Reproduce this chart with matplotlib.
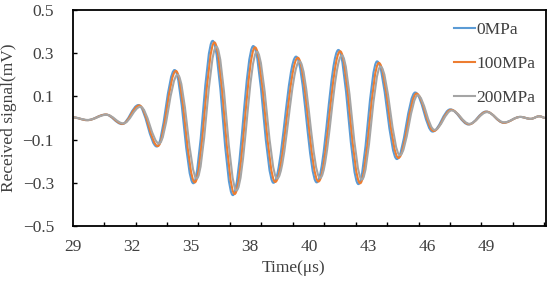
import numpy as np
import matplotlib
matplotlib.use("Agg")
import matplotlib.pyplot as plt
from matplotlib.path import Path
from matplotlib.patches import PathPatch
from matplotlib.lines import Line2D

plt.rcParams['font.family'] = ['Liberation Serif', 'DejaVu Serif']

# extrema (time in us, signal in mV), per pressure
t_0mpa = [29.30, 29.97, 30.83, 31.59, 32.36, 33.21, 34.04, 34.91, 35.81, 36.75, 37.70, 38.64, 39.69, 40.65,
          41.66, 42.59, 43.46, 44.38, 45.23, 46.04, 46.86, 47.71, 48.53, 49.34, 50.11, 50.60, 51.00, 51.30]
v_0mpa = [0.003, -0.010, 0.016, -0.028, 0.060, -0.132, 0.222, -0.302, 0.357, -0.357, 0.333, -0.300, 0.284, -0.298,
          0.315, -0.306, 0.262, -0.190, 0.118, -0.063, 0.040, -0.030, 0.030, -0.022, 0.005, -0.004, 0.008, 0.000]

t_100mpa = [29.30, 29.99, 30.85, 31.62, 32.40, 33.26, 34.10, 34.98, 35.89, 36.83, 37.78, 38.72, 39.77, 40.73,
            41.74, 42.67, 43.54, 44.45, 45.29, 46.09, 46.90, 47.74, 48.55, 49.36, 50.12, 50.60, 51.00, 51.30]
v_100mpa = [0.003, -0.010, 0.016, -0.027, 0.058, -0.130, 0.218, -0.298, 0.350, -0.352, 0.327, -0.296, 0.279, -0.294,
            0.309, -0.302, 0.255, -0.185, 0.113, -0.060, 0.038, -0.029, 0.029, -0.022, 0.005, -0.004, 0.008, 0.000]

t_200mpa = [29.30, 30.01, 30.88, 31.66, 32.45, 33.32, 34.18, 35.07, 35.98, 36.92, 37.87, 38.81, 39.85, 40.81,
            41.82, 42.75, 43.62, 44.52, 45.35, 46.13, 46.93, 47.76, 48.57, 49.37, 50.13, 50.60, 51.00, 51.30]
v_200mpa = [0.003, -0.009, 0.015, -0.025, 0.052, -0.118, 0.200, -0.280, 0.330, -0.335, 0.307, -0.280, 0.262, -0.277,
            0.290, -0.285, 0.238, -0.172, 0.105, -0.055, 0.035, -0.027, 0.027, -0.020, 0.005, -0.004, 0.008, 0.000]

series = [("0MPa", t_0mpa, v_0mpa, "#5B9BD5"),
          ("100MPa", t_100mpa, v_100mpa, "#ED7D31"),
          ("200MPa", t_200mpa, v_200mpa, "#A5A5A5")]

x_tick_labels = ["29", "32", "35", "38", "40", "43", "46", "49"]
y_ticks = [-0.5, -0.3, -0.1, 0.1, 0.3, 0.5]
y_tick_labels = ["\u22120.5", "\u22120.3", "\u22120.1", "0.1", "0.3", "0.5"]

x_start = 29.3
label_step = 2.75
mark_step = 1.4625
x_end = x_start + 8 * label_step


def wave_path(t, v, k=0.363):
    # smooth half-waves between successive extrema (horizontal tangent at each one)
    verts = [(t[0], v[0])]
    codes = [Path.MOVETO]
    for i in range(len(t) - 1):
        dt = t[i + 1] - t[i]
        verts += [(t[i] + k * dt, v[i]), (t[i + 1] - k * dt, v[i + 1]), (t[i + 1], v[i + 1])]
        codes += [Path.CURVE4] * 3
    return Path(verts, codes)


fig = plt.figure(figsize=(5.5, 2.83), dpi=100)
ax = fig.add_axes([72.7 / 550, 1 - 226 / 283, 473 / 550, 216 / 283])

handles = []
for name, t, v, c in series:
    ax.add_patch(PathPatch(wave_path(t, v), fill=False, edgecolor=c, lw=1.5))
    handles.append(Line2D([], [], color=c, lw=1.5, label=name))

ax.set_xlim(x_start, x_end)
ax.set_ylim(-0.5, 0.5)

txt = '#404040'
ax.set_xticks([x_start + k * label_step for k in range(len(x_tick_labels))])
ax.set_xticklabels(x_tick_labels)
ax.set_xticks(np.arange(x_start + mark_step, x_end, mark_step), minor=True)
ax.tick_params(axis='x', which='major', length=0, pad=9.5, labelsize=12.5, labelcolor=txt)
ax.tick_params(axis='x', which='minor', direction='in', length=3, width=1, color='black')

ax.set_yticks(y_ticks)
ax.set_yticklabels(y_tick_labels)
ax.tick_params(axis='y', direction='in', length=3, width=1, pad=13.5, labelsize=12.5, labelcolor=txt)

for s in ax.spines.values():
    s.set_color('black')
    s.set_linewidth(1.3)

ax.set_ylabel("Received signal(mV)", fontsize=12.5, color=txt)
ax.yaxis.set_label_coords(-0.118, 0.5)
fig.text(294 / 550, 1 - 268 / 283, "Time(\u03bcs)", ha='center', va='center', fontsize=12.5, color=txt)

ax.legend(handles=handles, loc='upper left', bbox_to_anchor=(454 / 550, 1 - 22 / 283),
          bbox_transform=fig.transFigure, frameon=False, fontsize=12.5, handlelength=1.2,
          handletextpad=0.1, labelspacing=1.02, borderpad=0, borderaxespad=0, labelcolor=txt)

plt.savefig("out.png", dpi=100)
plt.close()
